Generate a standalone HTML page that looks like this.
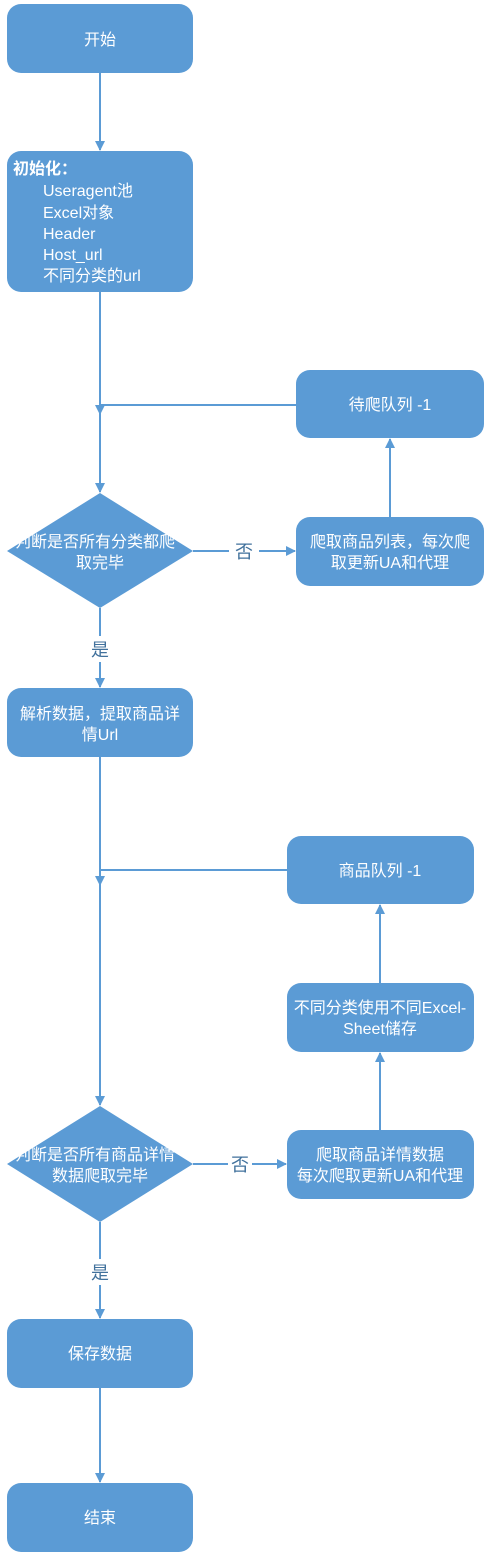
<!DOCTYPE html>
<html><head><meta charset="utf-8"><style>
html,body{margin:0;padding:0;background:#fff;}
svg{display:block;}
text{font-family:"Liberation Sans","Noto Sans CJK SC",sans-serif;font-size:16px;fill:#fff;}
.l{fill:#41719c;font-size:18px;}
</style></head><body>
<svg width="491" height="1564" viewBox="0 0 491 1564">
<defs>
<marker id="a" markerWidth="10" markerHeight="10" refX="9" refY="5" orient="auto" markerUnits="userSpaceOnUse">
<path d="M0,0 L10,5 L0,10 z" fill="#5b9bd5"/></marker>
</defs>
<g stroke="#5b9bd5" stroke-width="2" fill="none">
<line x1="100" y1="73" x2="100" y2="150" marker-end="url(#a)"/>
<line x1="100" y1="292" x2="100" y2="492" marker-end="url(#a)"/>
<line x1="100" y1="405" x2="296" y2="405"/>
<line x1="100" y1="395" x2="100" y2="414" marker-end="url(#a)"/>
<line x1="193" y1="551" x2="229" y2="551"/>
<line x1="259" y1="551" x2="295" y2="551" marker-end="url(#a)"/>
<line x1="390" y1="517" x2="390" y2="439" marker-end="url(#a)"/>
<line x1="100" y1="608" x2="100" y2="636"/>
<line x1="100" y1="662" x2="100" y2="687" marker-end="url(#a)"/>
<line x1="100" y1="757" x2="100" y2="1105" marker-end="url(#a)"/>
<line x1="100" y1="870" x2="287" y2="870"/>
<line x1="100" y1="866" x2="100" y2="885" marker-end="url(#a)"/>
<line x1="193" y1="1164" x2="228" y2="1164"/>
<line x1="252" y1="1164" x2="286" y2="1164" marker-end="url(#a)"/>
<line x1="380" y1="1130" x2="380" y2="1053" marker-end="url(#a)"/>
<line x1="380" y1="983" x2="380" y2="905" marker-end="url(#a)"/>
<line x1="100" y1="1222" x2="100" y2="1259"/>
<line x1="100" y1="1285" x2="100" y2="1318" marker-end="url(#a)"/>
<line x1="100" y1="1388" x2="100" y2="1482" marker-end="url(#a)"/>
</g>
<g fill="#5b9bd5">
<rect x="7" y="4" width="186" height="69" rx="14"/>
<rect x="7" y="151" width="186" height="141" rx="14"/>
<rect x="296" y="370" width="188" height="68" rx="14"/>
<polygon points="100,493 193,551 100,608 7,551"/>
<rect x="296" y="517" width="188" height="69" rx="14"/>
<rect x="7" y="688" width="186" height="69" rx="14"/>
<rect x="287" y="836" width="187" height="68" rx="14"/>
<rect x="287" y="983" width="187" height="69" rx="14"/>
<rect x="287" y="1130" width="187" height="69" rx="14"/>
<polygon points="100,1106 193,1164 100,1222 7,1164"/>
<rect x="7" y="1319" width="186" height="69" rx="14"/>
<rect x="7" y="1483" width="186" height="69" rx="14"/>
</g>
<text x="100" y="45" text-anchor="middle">开始</text>
<text x="13" y="174" font-weight="bold">初始化：</text>
<text x="43" y="196">Useragent池</text>
<text x="43" y="218">Excel对象</text>
<text x="43" y="239">Header</text>
<text x="43" y="260">Host_url</text>
<text x="43" y="281">不同分类的url</text>
<text x="390" y="410" text-anchor="middle">待爬队列 -1</text>
<text x="95" y="547" text-anchor="middle">判断是否所有分类都爬</text>
<text x="100" y="568" text-anchor="middle">取完毕</text>
<text class="l" x="244" y="558" text-anchor="middle">否</text>
<text x="390" y="547" text-anchor="middle">爬取商品列表，每次爬</text>
<text x="390" y="568" text-anchor="middle">取更新UA和代理</text>
<text class="l" x="100" y="656" text-anchor="middle">是</text>
<text x="100" y="719" text-anchor="middle">解析数据，提取商品详</text>
<text x="100" y="740" text-anchor="middle">情Url</text>
<text x="380" y="876" text-anchor="middle">商品队列 -1</text>
<text x="380" y="1013" text-anchor="middle">不同分类使用不同Excel-</text>
<text x="380" y="1034" text-anchor="middle">Sheet储存</text>
<text x="95" y="1160" text-anchor="middle">判断是否所有商品详情</text>
<text x="100" y="1181" text-anchor="middle">数据爬取完毕</text>
<text class="l" x="240" y="1171" text-anchor="middle">否</text>
<text x="380" y="1160" text-anchor="middle">爬取商品详情数据</text>
<text x="380" y="1181" text-anchor="middle">每次爬取更新UA和代理</text>
<text class="l" x="100" y="1279" text-anchor="middle">是</text>
<text x="100" y="1359" text-anchor="middle">保存数据</text>
<text x="100" y="1523" text-anchor="middle">结束</text>
</svg>
</body></html>
